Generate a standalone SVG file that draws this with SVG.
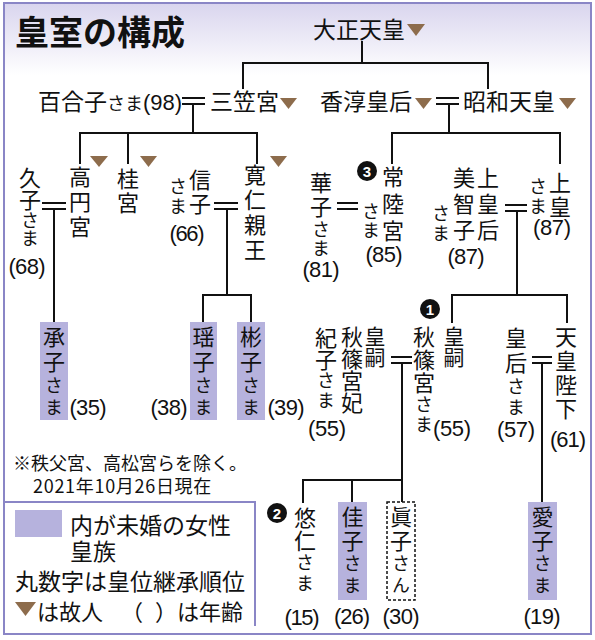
<svg xmlns="http://www.w3.org/2000/svg" width="595" height="640" viewBox="0 0 595 640">
<defs>
<linearGradient id="bg" x1="0" y1="0" x2="0" y2="1">
<stop offset="0" stop-color="#d9d5ee"/><stop offset="1" stop-color="#ffffff"/>
</linearGradient>
<style>
text{font-family:"Noto Sans CJK JP",sans-serif;fill:#111}
.vt{writing-mode:vertical-rl;font-size:22px}
.s{font-size:18px}
.m{font-size:21px}
.a{font-family:"Liberation Sans","Noto Sans CJK JP",sans-serif;font-size:22px;text-anchor:middle}
.h{font-size:23px}
.n{font-family:"Liberation Sans",sans-serif;font-size:22px}
.ln{stroke:#111;stroke-width:2;fill:none;stroke-linecap:square}
.tri{fill:#8d6c4c}
.box{fill:#b6b2dd}
.frame{stroke:#8a86c6;stroke-width:2;fill:none}
.num circle{fill:#111}
.num text{fill:#fff;font-family:"Liberation Sans",sans-serif;font-weight:bold;font-size:15px;text-anchor:middle}
.note{font-size:18px}
.leg{font-size:23px}
</style>
</defs>
<rect x="0" y="0" width="595" height="640" fill="#fff"/>
<rect x="4" y="3" width="587" height="72" fill="url(#bg)"/>
<rect class="frame" x="4" y="3" width="587" height="631"/>
<text x="15" y="45" style="font-size:34px;font-weight:bold">皇室の構成</text>

<g id="connectors" class="ln">
<path d="M362 42V63M243 63H488M243 63V88M488 63V88"/>
<path d="M183 98H204M183 104H204M193 104V133M80 133H257M80 133V163M128 133V163M257 133V163"/>
<path d="M437 98H458M437 104H458M449 104V133M392 133H560M392 133V163M560 133V163"/>
<path d="M43 203H65M43 209H65M54 209V322"/>
<path d="M215 203H237M215 209H237M227 209V295M203 295H251M203 295V322M251 295V322"/>
<path d="M338 203H357M338 209H357"/>
<path d="M506 205H526M506 211H526M517 211V295M452 295H567M452 295V322M567 295V322"/>
<path d="M392 357H411M392 363H411M402 363V480M303 480H402M303 480V502M352 480V502M402 480V502"/>
<path d="M533 357H551M533 363H551M542 363V502"/>
</g>

<g id="taisho"><text class="h" x="313" y="38">大正天皇</text><polygon class="tri" points="407,24 425,24 416,36"/></g>
<g id="yuriko"><text class="h" x="38" y="110">百合子<tspan class="s">さま</tspan><tspan class="n">(98)</tspan></text></g>
<g id="mikasa"><text class="h" x="210" y="110">三笠宮</text><polygon class="tri" points="280,98 297,98 288.5,109"/></g>
<g id="kojun"><text class="h" x="320" y="110">香淳皇后</text><polygon class="tri" points="415,98 432,98 423.5,109"/></g>
<g id="showa"><text class="h" x="463" y="110">昭和天皇</text><polygon class="tri" points="559,98 576,98 567.5,109"/></g>

<g id="hisako"><text class="vt" x="30" y="167">久子<tspan class="s">さま</tspan></text><text class="a" x="27" y="274" textLength="37">(68)</text></g>
<g id="takamado"><text class="vt" x="80" y="166" letter-spacing="3">高円宮</text><polygon class="tri" points="90,156 108,156 99,167"/></g>
<g id="katsura"><text class="vt" x="128" y="168" letter-spacing="2">桂宮</text><polygon class="tri" points="140,156 157,156 148.5,167"/></g>
<g id="nobuko"><text class="vt" x="200" y="169" letter-spacing="2">信子</text><text class="vt s" x="178" y="177" letter-spacing="2">さま</text><text class="a" x="187" y="241" textLength="35">(66)</text></g>
<g id="tomohito"><text class="vt" x="255" y="164" letter-spacing="3">寛仁親王</text><polygon class="tri" points="270,156 287,156 278.5,167"/></g>

<g id="hanako"><text class="vt" x="321" y="172" letter-spacing="2">華子<tspan class="s" letter-spacing="1">さま</tspan></text><text class="a" x="321" y="277" textLength="37">(81)</text></g>
<g id="hitachi"><g class="num"><circle cx="367" cy="171" r="10"/><text x="367" y="176.5">3</text></g><text class="vt" x="393" y="166" letter-spacing="5">常陸宮</text><text class="vt s" x="371" y="202" letter-spacing="1">さま</text><text class="a" x="384" y="262" textLength="37">(85)</text></g>
<g id="michiko"><text class="vt" x="488" y="167" letter-spacing="4">上皇后</text><text class="vt" x="464" y="167" letter-spacing="4">美智子</text><text class="vt s" x="441" y="204" letter-spacing="2">さま</text><text class="a" x="466" y="264" textLength="37">(87)</text></g>
<g id="joko"><text class="vt" x="560" y="172" letter-spacing="2">上皇</text><text class="vt s" x="538" y="177" letter-spacing="2">さま</text><text class="a" x="552" y="235" textLength="38">(87)</text></g>

<g id="tsuguko"><rect class="box" x="40" y="322" width="28" height="98"/><text class="vt" x="54" y="326" letter-spacing="3">承子<tspan class="s" letter-spacing="4">さま</tspan></text><text class="a" x="88" y="415" textLength="37">(35)</text></g>
<g id="yoko"><rect class="box" x="190" y="322" width="27" height="98"/><text class="vt" x="203.5" y="326" letter-spacing="3">瑶子<tspan class="s" letter-spacing="4">さま</tspan></text><text class="a" x="169" y="415" textLength="37">(38)</text></g>
<g id="akiko"><rect class="box" x="237" y="322" width="28" height="98"/><text class="vt" x="251" y="326" letter-spacing="3">彬子<tspan class="s" letter-spacing="4">さま</tspan></text><text class="a" x="286" y="415" textLength="37">(39)</text></g>

<g id="kiko"><text class="vt m" x="375" y="326">皇嗣</text><text class="vt" x="352" y="326">秋篠宮妃</text><text class="vt" x="326" y="327">紀子<tspan class="s" letter-spacing="2">さま</tspan></text><text class="a" x="327" y="436" textLength="38">(55)</text></g>
<g id="akishino"><g class="num"><circle cx="430" cy="309" r="10"/><text x="430" y="314.5">1</text></g><text class="vt m" x="454" y="326">皇嗣</text><text class="vt" x="424" y="326" letter-spacing="1">秋篠宮<tspan class="s" letter-spacing="2">さま</tspan></text><text class="a" x="452" y="436" textLength="38">(55)</text></g>
<g id="kogo"><text class="vt" x="516" y="327" letter-spacing="3">皇后<tspan class="s" letter-spacing="3">さま</tspan></text><text class="a" x="516" y="437" textLength="38">(57)</text></g>
<g id="tenno"><text class="vt" x="566" y="326" letter-spacing="2">天皇陛下</text><text class="a" x="568" y="447" textLength="36">(61)</text></g>

<g id="hisahito"><g class="num"><circle cx="277" cy="513" r="10"/><text x="277" y="518.5">2</text></g><text class="vt" x="305" y="507" letter-spacing="1">悠仁<tspan class="s" letter-spacing="3">さま</tspan></text><text class="a" x="302" y="625" textLength="35">(15)</text></g>
<g id="kako"><rect class="box" x="338" y="502" width="29" height="98"/><text class="vt" x="352.5" y="506" letter-spacing="2">佳子<tspan class="s" letter-spacing="4">さま</tspan></text><text class="a" x="352" y="624" textLength="36">(26)</text></g>
<g id="mako"><rect x="387" y="502" width="28" height="98" fill="#fff" stroke="#111" stroke-width="1.5" stroke-dasharray="3,2"/><text class="vt" x="401" y="506" letter-spacing="2">眞子<tspan class="s" letter-spacing="4">さん</tspan></text><text class="a" x="401" y="624" textLength="37">(30)</text></g>
<g id="aiko"><rect class="box" x="528" y="502" width="29" height="98"/><text class="vt" x="542.5" y="506" letter-spacing="2">愛子<tspan class="s" letter-spacing="4">さま</tspan></text><text class="a" x="542" y="624" textLength="37">(19)</text></g>

<g id="notes">
<text class="note"><tspan x="13" y="470">※秩父宮、高松宮らを除く。</tspan><tspan x="33" y="493" letter-spacing="0.7">2021年10月26日現在</tspan></text>
</g>
<g id="legend">
<path class="frame" d="M4 502H255V626"/>
<rect class="box" x="15" y="510" width="47" height="27"/>
<polygon class="tri" points="15,602 36,602 25.5,616"/>
<text class="leg"><tspan x="70" y="534">内が未婚の女性</tspan><tspan x="70" y="560">皇族</tspan><tspan x="15" y="590">丸数字は皇位継承順位</tspan><tspan x="37" y="620" style="font-size:22px">は故人</tspan><tspan x="121" y="620" style="font-size:22px">（</tspan><tspan x="155" y="620" style="font-size:22px">）</tspan><tspan x="177" y="620" style="font-size:22px">は年齢</tspan></text>
</g>
</svg>
